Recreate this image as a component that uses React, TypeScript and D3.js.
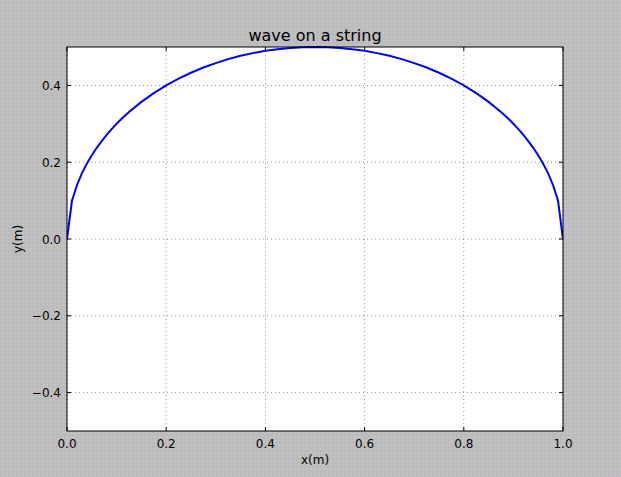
import React from "react";
import * as d3 from "d3";

const xValues = [0, 0.01, 0.02, 0.03, 0.04, 0.05, 0.06, 0.07, 0.08, 0.09, 0.1, 0.11, 0.125, 0.15, 0.175, 0.2, 0.225, 0.25, 0.275, 0.3, 0.325, 0.35, 0.375, 0.4, 0.425, 0.45, 0.475, 0.5, 0.525, 0.55, 0.575, 0.6, 0.625, 0.65, 0.675, 0.7, 0.725, 0.75, 0.775, 0.8, 0.825, 0.85, 0.875, 0.89, 0.9, 0.91, 0.92, 0.93, 0.94, 0.95, 0.96, 0.97, 0.98, 0.99, 1.0];
const yValues = [0, 0.0995, 0.14, 0.171, 0.196, 0.218, 0.2375, 0.2551, 0.2713, 0.2862, 0.3, 0.3129, 0.3307, 0.357, 0.38, 0.4, 0.4176, 0.433, 0.4465, 0.458, 0.4684, 0.477, 0.4841, 0.49, 0.4943, 0.4975, 0.4994, 0.5, 0.4994, 0.4975, 0.4943, 0.49, 0.4841, 0.477, 0.4684, 0.458, 0.4465, 0.433, 0.4176, 0.4, 0.38, 0.357, 0.3307, 0.3129, 0.3, 0.2862, 0.2713, 0.2551, 0.2375, 0.218, 0.196, 0.171, 0.14, 0.0995, 0];
const xTicks = [0, 0.2, 0.4, 0.6, 0.8, 1.0];
const yTicks = [-0.4, -0.2, 0, 0.2, 0.4];
const title = "wave on a string";
const xLabel = "x(m)";
const yLabel = "y(m)";

const W = 621, H = 477;
const L = 67, R = 563, T = 47, B = 431;

const fmt = (t: number) => t.toFixed(1).replace("-", "\u2212");

export default function App() {
  const x = d3.scaleLinear().domain([0, 1]).range([L, R]);
  const y = d3.scaleLinear().domain([-0.5, 0.5]).range([B, T]);
  const pts = xValues.map((v, i) => [v, yValues[i]] as [number, number]);
  const line = d3.line<[number, number]>().x(d => x(d[0])).y(d => y(d[1]));
  const font = "DejaVu Sans, sans-serif";
  return (
    <svg width={W} height={H} style={{ position: "absolute", left: 0, top: 0 }} fontFamily={font}>
      <defs>
        <pattern id="bg" width="4" height="4" patternUnits="userSpaceOnUse">
          <rect width="4" height="4" fill="#bebebe" />
          <rect x="0" y="0" width="1" height="1" fill="#c8b4c8" />
          <rect x="2" y="1" width="1" height="1" fill="#b4c6b4" />
          <rect x="1" y="2" width="1" height="1" fill="#c4b0c4" />
          <rect x="3" y="3" width="1" height="1" fill="#b0c4b0" />
          <rect x="3" y="0" width="1" height="1" fill="#c6c6c6" />
          <rect x="0" y="3" width="1" height="1" fill="#b6b6b6" />
        </pattern>
        <clipPath id="clip"><rect x={L} y={T - 2} width={R - L} height={B - T + 2} /></clipPath>
      </defs>
      <rect width={W} height={H} fill="url(#bg)" />
      <rect x={L} y={T} width={R - L} height={B - T} fill="#fff" />
      {xTicks.map(t => (
        <g key={"xg" + t}>
          <line x1={x(t)} x2={x(t)} y1={T} y2={B} stroke="#000" strokeWidth={0.6} strokeDasharray="1 3" opacity={0.7} />
          <line x1={x(t)} x2={x(t)} y1={B} y2={B - 4} stroke="#000" />
          <line x1={x(t)} x2={x(t)} y1={T} y2={T + 4} stroke="#000" />
          <text x={x(t)} y={B + 17} textAnchor="middle" fontSize={12}>{fmt(t)}</text>
        </g>
      ))}
      {yTicks.map(t => (
        <g key={"yg" + t}>
          <line x1={L} x2={R} y1={y(t)} y2={y(t)} stroke="#000" strokeWidth={0.6} strokeDasharray="1 3" opacity={0.7} />
          <line x1={L} x2={L + 4} y1={y(t)} y2={y(t)} stroke="#000" />
          <line x1={R} x2={R - 4} y1={y(t)} y2={y(t)} stroke="#000" />
          <text x={L - 6} y={y(t) + 4.5} textAnchor="end" fontSize={12}>{fmt(t)}</text>
        </g>
      ))}
      <path d={line(pts) || ""} fill="none" stroke="#0000ff" strokeWidth={2} clipPath="url(#clip)" />
      <rect x={L} y={T} width={R - L} height={B - T} fill="none" stroke="#000" strokeWidth={1} />
      <text x={(L + R) / 2} y={41} textAnchor="middle" fontSize={16}>{title}</text>
      <text x={(L + R) / 2} y={464} textAnchor="middle" fontSize={12}>{xLabel}</text>
      <text transform={`translate(22,${(T + B) / 2}) rotate(-90)`} textAnchor="middle" fontSize={12}>{yLabel}</text>
    </svg>
  );
}
